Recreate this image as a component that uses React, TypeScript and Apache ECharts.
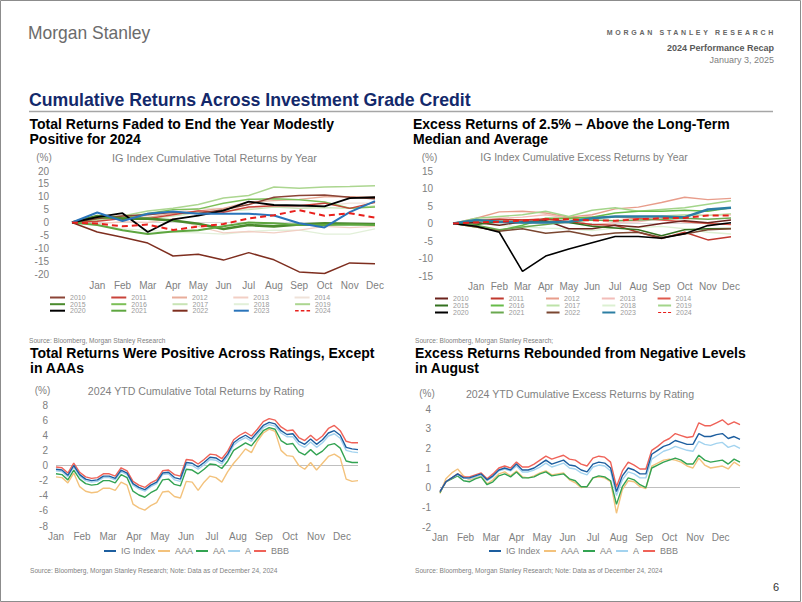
import React, { useEffect, useRef } from 'react';
import * as echarts from 'echarts';

const FONT = '"Liberation Sans", Arial, Helvetica, sans-serif';

// ---------- categories ----------
const YEAR_AXIS = ['', 'Jan', 'Feb', 'Mar', 'Apr', 'May', 'Jun', 'Jul', 'Aug', 'Sep', 'Oct', 'Nov', 'Dec'];
const MONTH_NAMES = ['Jan', 'Feb', 'Mar', 'Apr', 'May', 'Jun', 'Jul', 'Aug', 'Sep', 'Oct', 'Nov', 'Dec'];
const YEARS = ['2010', '2011', '2012', '2013', '2014', '2015', '2016', '2017', '2018', '2019', '2020', '2021', '2022', '2023', '2024'];
const LEGEND_ROWS = [YEARS.slice(0, 5), YEARS.slice(5, 10), YEARS.slice(10, 15)];

// ---------- IG index cumulative total returns by year (%) ----------
const TR_2010 = [0, 1.5, 2.5, 3.0, 4.0, 3.5, 5.0, 7.0, 9.8, 10.5, 10.7, 9.8, 9.2];
const TR_2011 = [0, 0.5, 1.5, 1.5, 3.0, 4.5, 4.0, 6.0, 6.5, 6.5, 7.5, 5.5, 7.8];
const TR_2012 = [0, 2.0, 2.5, 2.0, 3.5, 4.5, 5.5, 8.0, 8.5, 9.0, 10.0, 10.0, 9.8];
const TR_2013 = [0, -0.5, 0.3, 0.0, 1.5, -1.5, -4.0, -3.5, -4.0, -3.0, -1.5, -2.0, -1.5];
const TR_2014 = [0, 2.0, 3.0, 3.0, 4.0, 5.5, 5.5, 5.5, 6.5, 5.5, 6.5, 7.5, 7.5];
const TR_2015 = [0, 2.5, 1.5, 1.5, 0.8, -0.5, -2.5, -1.0, -1.5, -0.8, -0.3, -0.5, -0.7];
const TR_2016 = [0, 1.5, 1.8, 3.5, 5.0, 5.2, 7.5, 9.0, 9.2, 8.8, 8.0, 5.5, 6.0];
const TR_2017 = [0, 0.8, 1.8, 1.5, 2.5, 3.8, 4.5, 5.0, 6.0, 5.5, 5.8, 5.5, 6.4];
const TR_2018 = [0, -1.0, -2.5, -3.0, -3.8, -4.0, -4.5, -3.5, -3.0, -3.0, -4.5, -4.5, -2.5];
const TR_2019 = [0, 1.5, 2.5, 4.5, 5.5, 7.0, 9.5, 10.5, 13.8, 13.3, 13.8, 14.0, 14.3];
const TR_2020 = [0, 2.1, 3.6, -3.7, 1.2, 2.7, 4.6, 8.1, 6.8, 6.6, 6.3, 9.5, 9.8];
const TR_2021 = [0, -1.0, -3.0, -4.5, -3.5, -3.0, -1.5, 0.0, -0.3, -1.0, -1.0, -0.8, -1.0];
const TR_2022 = [0, -3.7, -5.7, -8.0, -13.0, -12.3, -14.6, -11.7, -14.5, -19.2, -19.8, -15.7, -16.0];
const TR_2023 = [0, 3.9, 0.6, 3.4, 4.3, 3.4, 3.4, 3.4, 2.7, -0.3, -1.9, 4.0, 8.3];
const TR_2024 = [0, -0.4, -1.5, -0.8, -2.9, -1.6, -0.6, 1.6, 2.8, 4.8, 2.6, 3.6, 1.9];

// ---------- IG index cumulative excess returns by year (%) ----------
const XR_2010 = [0, 0.3, -0.5, 0.5, 0.8, -1.5, -1.5, -0.5, -1.0, 0.0, 0.8, 0.2, 1.0];
const XR_2011 = [0, 0.8, 1.2, 1.0, 1.3, 0.5, -0.3, -0.5, -2.5, -4.3, -2.5, -4.7, -3.8];
const XR_2012 = [0, 1.5, 3.3, 3.5, 3.0, 1.8, 2.5, 4.2, 4.7, 6.0, 7.5, 6.8, 7.2];
const XR_2013 = [0, 1.0, 1.5, 1.8, 2.5, 1.5, -0.5, 0.3, 0.5, 1.5, 2.5, 2.3, 2.5];
const XR_2014 = [0, 0.3, 0.8, 1.0, 1.2, 1.5, 1.8, 1.8, 1.5, 1.0, 0.5, 0.0, -0.3];
const XR_2015 = [0, -0.3, 0.5, 0.3, 0.5, 0.3, -0.8, -1.3, -1.8, -3.5, -1.8, -1.5, -1.4];
const XR_2016 = [0, -1.0, -2.0, -0.5, 1.5, 1.5, 1.8, 3.0, 3.5, 3.5, 3.8, 3.5, 4.5];
const XR_2017 = [0, 0.5, 1.0, 0.5, 0.8, 1.2, 1.5, 1.8, 2.0, 2.2, 2.5, 2.3, 2.8];
const XR_2018 = [0, 0.5, -0.5, -1.0, -1.3, -1.5, -2.0, -1.3, -1.2, -0.8, -1.5, -2.5, -3.0];
const XR_2019 = [0, 1.5, 2.0, 2.5, 3.5, 2.0, 3.8, 4.5, 3.5, 4.0, 4.5, 5.5, 6.5];
const XR_2020 = [0, -0.8, -2.5, -13.7, -9.3, -7.3, -5.5, -3.7, -3.7, -4.2, -2.9, -0.6, 0.2];
const XR_2021 = [0, -0.5, -1.8, -1.0, -0.3, 0.5, 1.0, 0.8, 1.0, 1.2, 1.5, 1.2, 1.6];
const XR_2022 = [0, -1.0, -2.2, -1.5, -2.8, -2.2, -3.5, -2.7, -2.5, -4.0, -3.0, -1.8, -1.5];
const XR_2023 = [0, 1.0, 0.5, 0.3, 0.3, 0.5, 1.5, 2.0, 2.0, 2.0, 1.8, 4.0, 4.5];
const XR_2024 = [0, 0.3, 0.5, 0.8, 1.2, 1.2, 0.9, 0.8, 1.2, 1.5, 1.6, 2.3, 2.3];

const TOTAL_BY_YEAR: Record<string, number[]> = {
  '2010': TR_2010, '2011': TR_2011, '2012': TR_2012, '2013': TR_2013, '2014': TR_2014,
  '2015': TR_2015, '2016': TR_2016, '2017': TR_2017, '2018': TR_2018, '2019': TR_2019,
  '2020': TR_2020, '2021': TR_2021, '2022': TR_2022, '2023': TR_2023, '2024': TR_2024,
};
const EXCESS_BY_YEAR: Record<string, number[]> = {
  '2010': XR_2010, '2011': XR_2011, '2012': XR_2012, '2013': XR_2013, '2014': XR_2014,
  '2015': XR_2015, '2016': XR_2016, '2017': XR_2017, '2018': XR_2018, '2019': XR_2019,
  '2020': XR_2020, '2021': XR_2021, '2022': XR_2022, '2023': XR_2023, '2024': XR_2024,
};

// ---------- 2024 YTD by rating (weekly) ----------
const WEEKS = [
  '2024-01-02', '2024-01-09', '2024-01-16', '2024-01-23', '2024-01-30',
  '2024-02-06', '2024-02-13', '2024-02-20', '2024-02-27',
  '2024-03-05', '2024-03-12', '2024-03-19', '2024-03-26',
  '2024-04-02', '2024-04-09', '2024-04-16', '2024-04-23', '2024-04-30',
  '2024-05-07', '2024-05-14', '2024-05-21', '2024-05-28',
  '2024-06-04', '2024-06-11', '2024-06-18', '2024-06-25',
  '2024-07-02', '2024-07-09', '2024-07-16', '2024-07-23', '2024-07-30',
  '2024-08-06', '2024-08-13', '2024-08-20', '2024-08-27',
  '2024-09-03', '2024-09-10', '2024-09-17', '2024-09-24',
  '2024-10-01', '2024-10-08', '2024-10-15', '2024-10-22', '2024-10-29',
  '2024-11-05', '2024-11-12', '2024-11-19', '2024-11-26',
  '2024-12-03', '2024-12-10', '2024-12-17', '2024-12-24',
];
const RATINGS = ['IG Index', 'AAA', 'AA', 'A', 'BBB'];

const TRR_IG = [-0.5, -0.6, -1.3, 0.0, -1.2, -1.8, -2.0, -1.9, -1.4, -1.4, -1.7, -0.6, -1.0, -2.4, -2.9, -3.2, -2.6, -2.2, -1.0, -0.9, -1.6, -1.8, 0.4, 0.3, -0.2, 0.4, 1.1, 1.0, 0.5, 1.5, 3.0, 3.6, 4.0, 3.5, 4.4, 5.3, 5.7, 5.5, 4.6, 4.1, 4.2, 3.2, 2.8, 3.5, 2.8, 3.4, 4.3, 4.6, 4.0, 2.4, 2.2, 2.1];
const TRR_AAA = [-1.5, -1.6, -2.3, -1.0, -2.8, -3.4, -3.6, -3.5, -3.0, -3.0, -3.3, -2.2, -2.6, -5.1, -5.6, -5.9, -5.3, -4.9, -3.5, -3.4, -4.1, -4.3, -2.1, -2.2, -3.3, -2.2, -1.4, -1.6, -2.2, -0.8, 0.3, 1.2, 2.2, 1.7, 3.2, 4.3, 4.8, 4.5, 2.0, 1.3, 1.2, 0.0, -0.5, 0.4, -0.6, 0.3, 1.2, 1.5, 1.0, -1.8, -2.1, -2.0];
const TRR_AA = [-1.1, -1.2, -1.9, -0.6, -1.8, -2.4, -2.6, -2.5, -2.0, -2.0, -2.3, -1.2, -1.6, -3.4, -3.9, -4.2, -3.6, -3.2, -1.9, -1.8, -2.5, -2.7, -0.5, -0.6, -1.1, -0.5, 0.2, 0.1, -0.4, 0.6, 2.0, 2.5, 3.0, 2.6, 3.6, 4.6, 5.0, 4.8, 3.3, 2.8, 2.9, 1.8, 1.4, 2.1, 1.4, 1.9, 2.7, 2.9, 2.3, 0.6, 0.4, 0.4];
const TRR_A = [-0.7, -0.8, -1.5, -0.2, -1.4, -2.0, -2.2, -2.1, -1.6, -1.6, -1.9, -0.8, -1.2, -2.6, -3.1, -3.4, -2.8, -2.4, -1.2, -1.1, -1.9, -2.1, 0.1, 0.0, -0.5, 0.1, 0.8, 0.7, 0.2, 1.2, 2.7, 3.3, 3.7, 3.2, 4.1, 5.0, 5.4, 5.2, 4.3, 3.8, 3.8, 2.8, 2.4, 3.1, 2.4, 3.0, 3.9, 4.2, 3.6, 2.0, 1.8, 1.7];
const TRR_BBB = [-0.2, -0.3, -1.0, 0.3, -0.9, -1.5, -1.7, -1.6, -1.1, -1.1, -1.4, -0.3, -0.7, -2.1, -2.6, -2.9, -2.3, -1.9, -0.7, -0.6, -1.2, -1.4, 0.8, 0.7, 0.2, 0.8, 1.5, 1.4, 0.9, 1.9, 3.4, 4.0, 4.4, 3.9, 4.8, 5.8, 6.2, 6.0, 5.1, 4.6, 4.7, 3.7, 3.3, 4.0, 3.3, 3.9, 4.9, 5.3, 4.6, 3.2, 3.0, 3.0];

const XRR_IG = [-0.2, 0.3, 0.5, 0.7, 0.5, 0.5, 0.6, 0.7, 0.4, 0.6, 0.9, 1.0, 0.9, 1.2, 0.9, 0.9, 1.0, 1.2, 1.4, 1.2, 1.3, 1.4, 1.15, 1.1, 0.9, 0.8, 1.2, 1.3, 1.25, 1.0, -0.2, 0.6, 1.0, 0.9, 0.7, 0.7, 1.7, 1.9, 2.1, 2.2, 2.4, 2.3, 2.2, 2.2, 2.75, 2.6, 2.6, 2.7, 2.75, 2.5, 2.6, 2.45];
const XRR_AAA = [-0.3, 0.45, 0.75, 0.95, 0.6, 0.4, 0.5, 0.6, 0.2, 0.4, 0.7, 0.8, 0.6, 0.85, 0.55, 0.5, 0.6, 0.75, 0.85, 0.65, 0.7, 0.75, 0.4, 0.25, 0.0, 0.05, 0.5, 0.55, 0.5, 0.3, -1.3, -0.1, 0.35, 0.3, 0.05, -0.05, 1.1, 1.25, 1.4, 1.45, 1.4, 1.3, 1.1, 1.0, 1.5, 1.15, 1.0, 1.05, 1.1, 0.95, 1.3, 1.1];
const XRR_AA = [-0.25, 0.3, 0.45, 0.6, 0.35, 0.3, 0.45, 0.55, 0.15, 0.3, 0.6, 0.7, 0.55, 0.8, 0.5, 0.5, 0.55, 0.7, 0.8, 0.6, 0.65, 0.7, 0.45, 0.35, 0.05, 0.05, 0.5, 0.6, 0.55, 0.35, -0.85, 0.05, 0.5, 0.4, 0.15, 0.0, 1.0, 1.15, 1.3, 1.4, 1.5, 1.4, 1.2, 1.2, 1.65, 1.4, 1.3, 1.35, 1.4, 1.2, 1.45, 1.3];
const XRR_A = [-0.2, 0.3, 0.5, 0.65, 0.5, 0.45, 0.55, 0.65, 0.35, 0.55, 0.85, 0.95, 0.85, 1.1, 0.8, 0.8, 0.9, 1.05, 1.25, 1.05, 1.15, 1.25, 1.0, 0.95, 0.75, 0.65, 1.05, 1.15, 1.1, 0.85, -0.4, 0.4, 0.8, 0.7, 0.5, 0.5, 1.45, 1.65, 1.85, 1.95, 2.1, 2.0, 1.9, 1.85, 2.35, 2.2, 2.15, 2.25, 2.3, 2.05, 2.15, 2.0];
const XRR_BBB = [-0.2, 0.3, 0.5, 0.7, 0.55, 0.55, 0.65, 0.75, 0.45, 0.7, 1.0, 1.1, 1.0, 1.3, 1.05, 1.05, 1.2, 1.4, 1.6, 1.45, 1.55, 1.65, 1.45, 1.4, 1.2, 1.1, 1.5, 1.6, 1.55, 1.3, 0.05, 0.85, 1.3, 1.15, 0.95, 0.95, 1.9, 2.1, 2.35, 2.5, 2.75, 2.65, 2.55, 2.6, 3.3, 3.15, 3.15, 3.3, 3.45, 3.2, 3.35, 3.2];

const TOTAL_BY_RATING: Record<string, number[]> = { 'IG Index': TRR_IG, AAA: TRR_AAA, AA: TRR_AA, A: TRR_A, BBB: TRR_BBB };
const EXCESS_BY_RATING: Record<string, number[]> = { 'IG Index': XRR_IG, AAA: XRR_AAA, AA: XRR_AA, A: XRR_A, BBB: XRR_BBB };

// ---------- styles ----------
type LS = { color: string; width: number; dashed?: boolean };
const TOTAL_STYLE: Record<string, LS> = {
  '2010': { color: '#8b4436', width: 1.4 },
  '2011': { color: '#c9433a', width: 1.4 },
  '2012': { color: '#e8ad9a', width: 1.3 },
  '2013': { color: '#f2cfc4', width: 1.3 },
  '2014': { color: '#efe2d9', width: 1.3 },
  '2015': { color: '#4a8a2c', width: 2.6 },
  '2016': { color: '#7cbf57', width: 1.5 },
  '2017': { color: '#c8e4b5', width: 1.3 },
  '2018': { color: '#e2f0d9', width: 1.3 },
  '2019': { color: '#acd690', width: 1.5 },
  '2020': { color: '#000000', width: 1.8 },
  '2021': { color: '#5ea640', width: 2.0 },
  '2022': { color: '#7e2e1f', width: 1.5 },
  '2023': { color: '#2a74ba', width: 2.0 },
  '2024': { color: '#e8201c', width: 2.0, dashed: true },
};
const EXCESS_STYLE: Record<string, LS> = {
  '2010': { color: '#6b221c', width: 1.4 },
  '2011': { color: '#c0392e', width: 1.4 },
  '2012': { color: '#e89d8b', width: 1.3 },
  '2013': { color: '#f2bdb9', width: 1.3 },
  '2014': { color: '#de5a4e', width: 1.3 },
  '2015': { color: '#33701f', width: 1.5 },
  '2016': { color: '#66bb48', width: 1.4 },
  '2017': { color: '#bde2a8', width: 1.3 },
  '2018': { color: '#dcf0d2', width: 1.3 },
  '2019': { color: '#a3d58a', width: 1.4 },
  '2020': { color: '#000000', width: 1.6 },
  '2021': { color: '#6aa84f', width: 1.5 },
  '2022': { color: '#7a4630', width: 1.5 },
  '2023': { color: '#2c7ea3', width: 2.4 },
  '2024': { color: '#e8201c', width: 2.0, dashed: true },
};
const DRAW_ORDER = ['2014', '2018', '2013', '2017', '2012', '2019', '2016', '2011', '2010', '2015', '2021', '2022', '2020', '2023', '2024'];

const RATING_COLOR: Record<string, string> = {
  'IG Index': '#1d5e9f',
  AAA: '#f3c27c',
  AA: '#33a352',
  A: '#a3d3ef',
  BBB: '#ef6258',
};
const RATING_ORDER = ['AAA', 'AA', 'A', 'BBB', 'IG Index'];

const DASH_ICON = 'path://M0,0h5v2h-5zM8,0h5v2h-5zM16,0h5v2h-5z';
const AXIS_GRAY = '#808080';

function zeroLine(color: string) {
  return {
    silent: true,
    symbol: ['none', 'none'],
    label: { show: false },
    z: 1,
    lineStyle: { color, width: 1, type: 'solid' },
    emphasis: { disabled: true },
    data: [{ yAxis: 0 }],
  };
}

function txt(x: number, y: number, text: string, size: number, opt: any = {}) {
  return {
    type: 'text',
    x,
    y,
    silent: true,
    scaleX: opt.scaleX ?? 1,
    style: {
      text,
      fontSize: size,
      fontWeight: opt.bold ? 'bold' : 'normal',
      fontFamily: FONT,
      fill: opt.color ?? '#000',
      align: opt.align ?? 'left',
      verticalAlign: 'middle',
    },
  };
}

function buildOption() {
  const series: any[] = [];

  DRAW_ORDER.forEach((y, i) => {
    const st = TOTAL_STYLE[y];
    series.push({
      name: y, type: 'line', xAxisIndex: 0, yAxisIndex: 0, data: TOTAL_BY_YEAR[y],
      symbol: 'none', silent: true, color: st.color, z: 2,
      lineStyle: { color: st.color, width: st.width, type: st.dashed ? [6, 4] : 'solid' },
      emphasis: { disabled: true },
      markLine: i === 0 ? zeroLine('#d9d9d9') : undefined,
    });
  });
  DRAW_ORDER.forEach((y, i) => {
    const st = EXCESS_STYLE[y];
    series.push({
      name: y + ' ', type: 'line', xAxisIndex: 1, yAxisIndex: 1, data: EXCESS_BY_YEAR[y],
      symbol: 'none', silent: true, color: st.color, z: 2,
      lineStyle: { color: st.color, width: st.width, type: st.dashed ? [6, 4] : 'solid' },
      emphasis: { disabled: true },
      markLine: i === 0 ? zeroLine('#d9d9d9') : undefined,
    });
  });
  RATING_ORDER.forEach((r, i) => {
    series.push({
      name: r, type: 'line', xAxisIndex: 2, yAxisIndex: 2, data: TOTAL_BY_RATING[r],
      symbol: 'none', silent: true, color: RATING_COLOR[r], z: 2,
      lineStyle: { color: RATING_COLOR[r], width: 1.4 },
      emphasis: { disabled: true },
      markLine: i === 0 ? zeroLine('#bfbfbf') : undefined,
    });
  });
  RATING_ORDER.forEach((r, i) => {
    series.push({
      name: r, type: 'line', xAxisIndex: 3, yAxisIndex: 3, data: EXCESS_BY_RATING[r],
      symbol: 'none', silent: true, color: RATING_COLOR[r], z: 2,
      lineStyle: { color: RATING_COLOR[r], width: 1.4 },
      emphasis: { disabled: true },
      markLine: i === 0 ? zeroLine('#bfbfbf') : undefined,
    });
  });

  const yearLegends = (left: number, tops: number[], itemWidth: number, itemGap: number, suffix: string) =>
    LEGEND_ROWS.map((row, r) => ({
      left, top: tops[r], orient: 'horizontal', padding: 0, itemGap, itemWidth, itemHeight: 2,
      selectedMode: false, icon: 'rect',
      textStyle: { fontSize: 7, color: '#9a9a9a', fontFamily: FONT },
      formatter: (n: string) => n.trim(),
      data: row.map((y) => (y === '2024' ? { name: y + suffix, icon: DASH_ICON } : { name: y + suffix })),
    }));

  const ratingLegend = (left: number, itemGap: number) => ({
    left, top: 546.5, orient: 'horizontal', padding: 0, itemGap, itemWidth: 12, itemHeight: 2,
    selectedMode: false, icon: 'rect',
    textStyle: { fontSize: 9, color: '#7f7f7f', fontFamily: FONT },
    data: RATINGS,
  });

  const yAx = (gi: number, min: number, max: number, interval: number, margin: number) => ({
    type: 'value', gridIndex: gi, min, max, interval,
    splitLine: { show: false }, axisLine: { show: false }, axisTick: { show: false },
    axisLabel: { color: AXIS_GRAY, fontSize: 10, fontFamily: FONT, margin },
  });
  const yearX = (gi: number, margin: number) => ({
    type: 'category', gridIndex: gi, data: YEAR_AXIS, boundaryGap: false, position: 'bottom',
    axisLine: { show: false }, axisTick: { show: false },
    axisLabel: { interval: 0, hideOverlap: false, color: AXIS_GRAY, fontSize: 10, fontFamily: FONT, margin },
  });
  // data axis for the weekly series (labels carried by the month axis below)
  const weekX = (gi: number) => ({
    type: 'category', gridIndex: gi, data: WEEKS, boundaryGap: false, position: 'bottom',
    axisLine: { show: false }, axisTick: { show: false }, axisLabel: { show: false },
  });
  // evenly spaced month axis, like the source's monthly date axis
  const monthX = (gi: number, max: number, margin: number) => ({
    type: 'value', gridIndex: gi, min: 0, max, interval: 1, position: 'bottom',
    splitLine: { show: false }, axisLine: { show: false }, axisTick: { show: false },
    axisLabel: {
      showMaxLabel: false,
      formatter: (v: number) => (Number.isInteger(v) && v < 12 ? MONTH_NAMES[v] : ''),
      color: AXIS_GRAY, fontSize: 10, fontFamily: FONT, margin,
    },
  });

  const G1 = '#7f7f7f';
  const graphics: any[] = [
    { type: 'rect', silent: true, shape: { x: 0.5, y: 0.5, width: 800, height: 601 }, style: { fill: 'none', stroke: '#8c8c8c', lineWidth: 1 } },
    txt(28, 33, 'Morgan Stanley', 18, { color: '#6b6b6b', scaleX: 0.97 }),
    txt(776, 32.5, 'MORGAN STANLEY RESEARCH', 7, { bold: true, color: '#666666', align: 'right' }),
    txt(774, 47.5, '2024 Performance Recap', 9, { bold: true, color: '#595959', align: 'right' }),
    txt(774, 60, 'January 3, 2025', 9, { color: '#7f7f7f', align: 'right' }),
    txt(29, 100, 'Cumulative Returns Across Investment Grade Credit', 17.7, { bold: true, color: '#13296b' }),
    { type: 'line', silent: true, shape: { x1: 29, y1: 111.5, x2: 773, y2: 111.5 }, style: { stroke: '#a6a6a6', lineWidth: 1.5 } },

    txt(29.5, 123.5, 'Total Returns Faded to End the Year Modestly', 14, { bold: true }),
    txt(29.5, 138.5, 'Positive for 2024', 14, { bold: true }),
    txt(413, 123.5, 'Excess Returns of 2.5% \u2013 Above the Long-Term', 14, { bold: true }),
    txt(413, 138.5, 'Median and Average', 14, { bold: true }),

    txt(44, 157.5, '(%)', 10, { color: G1, align: 'center' }),
    txt(214.5, 157.5, 'IG Index Cumulative Total Returns by Year', 10.9, { color: G1, align: 'center' }),
    txt(429.5, 157.5, '(%)', 10, { color: G1, align: 'center' }),
    txt(584, 157.5, 'IG Index Cumulative Excess Returns by Year', 10.4, { color: G1, align: 'center' }),

    txt(29, 340, 'Source: Bloomberg, Morgan Stanley Research', 6.6, { color: G1 }),
    txt(415, 340, 'Source: Bloomberg, Morgan Stanley Research;', 6.6, { color: G1 }),

    txt(30, 352.5, 'Total Returns Were Positive Across Ratings, Except', 14, { bold: true }),
    txt(30, 367.5, 'in AAAs', 14, { bold: true }),
    txt(415, 352.5, 'Excess Returns Rebounded from Negative Levels', 14, { bold: true }),
    txt(415, 367.5, 'in August', 14, { bold: true }),

    txt(42.5, 390.5, '(%)', 10, { color: G1, align: 'center' }),
    txt(196, 390.5, '2024 YTD Cumulative Total Returns by Rating', 10.6, { color: G1, align: 'center' }),
    txt(427, 393.5, '(%)', 10, { color: G1, align: 'center' }),
    txt(580, 394, '2024 YTD Cumulative Excess Returns by Rating', 10.6, { color: G1, align: 'center' }),

    txt(30, 570.5, 'Source: Bloomberg, Morgan Stanley Research; Note: Data as of December 24, 2024', 6.6, { color: G1 }),
    txt(415, 570.5, 'Source: Bloomberg, Morgan Stanley Research; Note: Data as of December 24, 2024', 6.6, { color: G1 }),
    txt(776, 587, '6', 11, { color: '#333333', align: 'center' }),
  ];

  return {
    animation: false,
    backgroundColor: '#ffffff',
    textStyle: { fontFamily: FONT },
    tooltip: { show: false },
    grid: [
      { left: 72, right: 427, top: 171, bottom: 328 },
      { left: 453, right: 71, top: 171, bottom: 326 },
      { left: 56, right: 444, top: 405, bottom: 76 },
      { left: 440, right: 62, top: 409, bottom: 75 },
    ],
    xAxis: [yearX(0, 6.5), yearX(1, 5.5), weekX(2), weekX(3), monthX(2, 11.615, 5.5), monthX(3, 11.76, 5)],
    yAxis: [yAx(0, -20, 20, 5, 23), yAx(1, -15, 15, 5, 20), yAx(2, -8, 8, 2, 8), yAx(3, -2, 4, 1, 9)],
    legend: [
      ...yearLegends(50, [294, 300.7, 307.2], 15, 25.7, ''),
      ...yearLegends(435, [295, 302, 309], 13, 22.2, ' '),
      ratingLegend(104, 3),
      ratingLegend(489, 4),
    ],
    series,
    graphic: { elements: graphics },
  };
}

export default function App() {
  const ref = useRef<HTMLDivElement>(null);
  useEffect(() => {
    document.body.style.margin = '0';
    const el = ref.current as HTMLDivElement;
    const chart = echarts.init(el, null, { renderer: 'svg' });
    chart.setOption(buildOption() as any);
    const spacing = () => {
      el.querySelectorAll('text').forEach((t) => {
        if (t.textContent === 'MORGAN STANLEY RESEARCH') t.setAttribute('letter-spacing', '2.7px');
      });
    };
    spacing();
    chart.on('finished', spacing);
    const tm = setTimeout(spacing, 60);
    return () => {
      clearTimeout(tm);
      chart.dispose();
    };
  }, []);
  return <div ref={ref} style={{ width: 802, height: 602, background: '#fff' }} />;
}
